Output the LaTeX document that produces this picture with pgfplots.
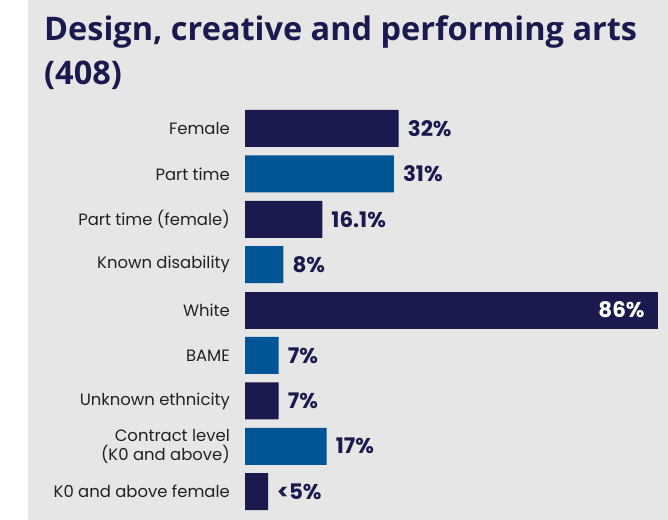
\documentclass[border=0pt]{standalone}
\usepackage{pgfplots}
\pgfplotsset{compat=1.18}
\usepackage{fontspec}
\setmainfont{Open Sans}
\newfontfamily\pop{Poppins}
\definecolor{navy}{HTML}{1B1A4F}
\definecolor{bblue}{HTML}{005597}
\definecolor{bggrey}{HTML}{E6E6E6}
\definecolor{lbl}{HTML}{222222}
\begin{document}
\begin{tikzpicture}[x=1bp,y=1bp]
\fill[white] (0,0) rectangle (668,520);
\fill[bggrey] (28,0) rectangle (668,520);
\node[anchor=base west, font=\fontsize{32.6}{38}\selectfont\bfseries, text=navy, inner sep=0pt] at (44,479) {Design, creative and performing arts};
\node[anchor=base west, font=\fontsize{32.6}{38}\selectfont\bfseries, text=navy, inner sep=0pt] at (44,435) {(408)};
\begin{axis}[
  at={(245bp,414.2bp)}, anchor=north west,
  scale only axis,
  width=423bp, height=408.6bp,
  xmin=0, xmax=88.125,
  ymin=-0.5, ymax=8.5, y dir=reverse,
  axis line style={draw=none},
  major tick length=0pt,
  tick style={draw=none},
  xtick=\empty,
  ytick={0,1,2,3,4,5,6,7,8},
  yticklabels={Female,Part time,Part time (female),Known disability,White,BAME,Unknown ethnicity,{Contract level\\(K0 and above)},K0 and above female},
  yticklabel style={font=\pop\fontsize{16.5}{18.5}\selectfont, text=lbl, align=right, inner sep=0pt, xshift=-15bp},
  clip=false,
  xbar, bar width=37bp, bar shift=0pt,
  point meta=explicit symbolic,
  nodes near coords,
  every node near coord/.style={font=\pop\fontsize{21.5}{22}\selectfont\bfseries, text=navy, anchor=west, inner sep=0pt, xshift=9bp},
]
\addplot[fill=navy, draw=none] coordinates {(32,0) [32\%] (16.1,2) [16.1\%] (7,6) [7\%] (4.8,8) [<5\%]};
\addplot[fill=bblue, draw=none] coordinates {(31,1) [31\%] (8,3) [8\%] (7,5) [7\%] (17,7) [17\%]};
\addplot[fill=navy, draw=none, every node near coord/.style={font=\pop\fontsize{21.5}{22}\selectfont\bfseries, text=white, anchor=east, inner sep=0pt, xshift=-13bp}] coordinates {(86,4) [86\%]};
\end{axis}
\end{tikzpicture}
\end{document}
